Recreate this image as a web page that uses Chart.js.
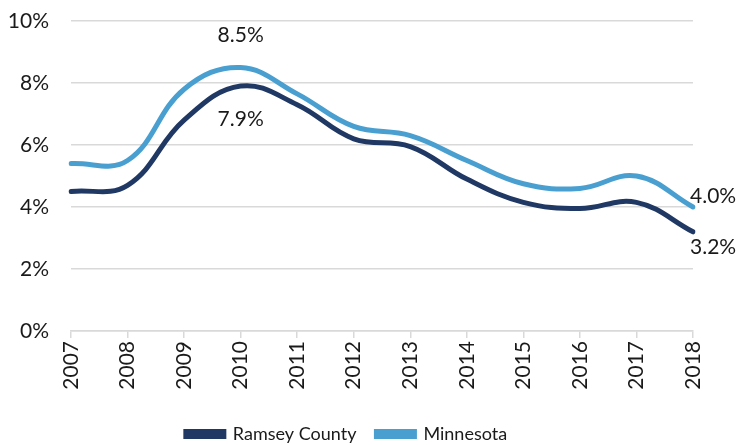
<!DOCTYPE html>
<html>
<head>
<meta charset="utf-8">
<script src="https://cdn.jsdelivr.net/npm/chart.js@4/dist/chart.umd.min.js"></script>
<style>
html,body{margin:0;padding:0;background:#fff;}
#wrap{width:737px;height:445px;position:relative;}
</style>
</head>
<body>
<div id="wrap"><canvas id="c"></canvas></div>
<script>
const years = ['2007','2008','2009','2010','2011','2012','2013','2014','2015','2016','2017','2018'];
const ramsey = [4.5, 4.7, 6.8, 7.9, 7.3, 6.2, 5.95, 4.9, 4.15, 3.95, 4.15, 3.2];
const minnesota = [5.4, 5.5, 7.8, 8.5, 7.65, 6.6, 6.3, 5.5, 4.75, 4.6, 5.0, 4.0];
const seriesNames = ['Ramsey County', 'Minnesota'];
const colors = ['#203864', '#4a9fd1'];
// [datasetIndex, pointIndex, text, dx, dy, align]
const dataLabels = [
  [1, 3, '8.5%', 0, -32, 'center'],
  [0, 3, '7.9%', 0, 33, 'center'],
  [1, 11, '4.0%', -3, -11, 'left'],
  [0, 11, '3.2%', -3, 15, 'left']
];
const FONT = 'Lato, "Open Sans", sans-serif';
const FS = 21;

const labelPlugin = {
  id: 'dl',
  afterDatasetsDraw(chart) {
    const ctx = chart.ctx;
    ctx.save();
    ctx.font = FS + 'px ' + FONT;
    ctx.fillStyle = '#1a1a1a';
    ctx.textBaseline = 'middle';
    dataLabels.forEach(([d, i, t, dx, dy, al]) => {
      const p = chart.getDatasetMeta(d).data[i];
      ctx.textAlign = al;
      ctx.fillText(t, p.x + dx, p.y + dy);
    });
    ctx.restore();
  }
};

new Chart(document.getElementById('c'), {
  type: 'line',
  data: {
    labels: years,
    datasets: [
      {label: seriesNames[0], data: ramsey, borderColor: colors[0], backgroundColor: colors[0], borderWidth: 5, pointRadius: 0, tension: 0.4, borderCapStyle: 'round'},
      {label: seriesNames[1], data: minnesota, borderColor: colors[1], backgroundColor: colors[1], borderWidth: 5, pointRadius: 0, tension: 0.4, borderCapStyle: 'round'}
    ]
  },
  options: {
    responsive: true,
    maintainAspectRatio: false,
    animation: false,
    layout: {padding: {top: 21, right: 44, left: 0, bottom: -8}},
    plugins: {
      tooltip: {enabled: false},
      legend: {
        position: 'bottom',
        labels: {
          font: {family: FONT, size: 18},
          color: '#1a1a1a',
          boxWidth: 38,
          boxHeight: 5,
          padding: 20
        }
      }
    },
    scales: {
      x: {
        offset: false,
        afterFit(s) { s.height = 74; s.paddingLeft = 0; s.paddingRight = 0; },
        grid: {display: true, drawOnChartArea: false, drawTicks: true, tickLength: 7, color: '#d9d9d9', lineWidth: 1.5},
        border: {display: true, color: '#d9d9d9', width: 1.5},
        ticks: {font: {family: FONT, size: FS}, color: '#1a1a1a', maxRotation: 90, minRotation: 90, padding: 3, autoSkip: false}
      },
      y: {
        min: 0, max: 10,
        afterFit(s) { s.width = 71; s.paddingTop = 0; s.paddingBottom = 0; },
        grid: {color: '#d9d9d9', lineWidth: 1.5, drawTicks: false},
        border: {display: false},
        ticks: {stepSize: 2, font: {family: FONT, size: FS}, color: '#1a1a1a', padding: 22, callback: v => v + '%'}
      }
    }
  },
  plugins: [labelPlugin]
});
</script>
</body>
</html>
